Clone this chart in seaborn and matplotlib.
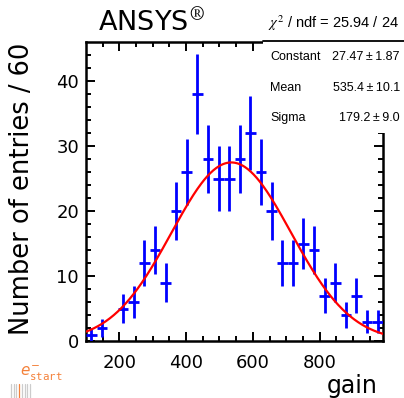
import numpy as np
import pandas as pd
import seaborn as sns
import matplotlib
matplotlib.use('Agg')
import matplotlib.pyplot as plt
from matplotlib.lines import Line2D
from matplotlib.patches import Rectangle

sns.set_style('ticks')
plt.rcParams['font.family'] = ['DejaVu Sans']
plt.rcParams['mathtext.fontset'] = 'dejavusans'
plt.rcParams['text.color'] = 'black'
plt.rcParams['xtick.color'] = 'black'
plt.rcParams['ytick.color'] = 'black'
plt.rcParams['xtick.labelcolor'] = 'black'
plt.rcParams['ytick.labelcolor'] = 'black'

# histogram: 28 bins between 100 and 990 in gain
bin_lo, bin_hi, n_bins = 100, 990, 28
counts = [1, 2, 0, 5, 6, 12, 14, 9, 20, 26, 38, 28, 25, 25,
          28, 32, 26, 20, 12, 12, 15, 14, 7, 9, 4, 7, 3, 3]

# gaussian fit results (from the stats box)
fit_const, fit_const_err = 27.47, 1.87
fit_mean, fit_mean_err = 535.4, 10.1
fit_sigma, fit_sigma_err = 179.2, 9.0
chi2, ndf = 25.94, 24

edges = np.linspace(bin_lo, bin_hi, n_bins + 1)
hist = pd.DataFrame({'gain': (edges[:-1] + edges[1:]) / 2,
                     'n': counts,
                     'half': np.diff(edges) / 2})
hist['err'] = np.sqrt(hist['n'])
hist = hist[hist['n'] > 0]

xfit = np.linspace(bin_lo, bin_hi, 300)
fit = pd.DataFrame({'gain': xfit,
                    'f': fit_const * np.exp(-0.5 * ((xfit - fit_mean) / fit_sigma) ** 2)})

fig = plt.figure(figsize=(4.04, 3.98), dpi=100)
ax = fig.add_axes([86 / 404, 57 / 398, 297 / 404, 299 / 398])

ax.errorbar(hist['gain'], hist['n'], xerr=hist['half'], yerr=hist['err'],
            fmt='none', ecolor='#0000ff', elinewidth=2.0, capsize=0, zorder=3)
sns.lineplot(data=fit, x='gain', y='f', color='#ff0000', linewidth=1.6, ax=ax, zorder=4)

ax.set_xlim(bin_lo, bin_hi)
ax.set_ylim(0, 46)
ax.set_xticks([200, 400, 600, 800])
ax.set_xticks(np.arange(150, 990, 50), minor=True)
ax.set_yticks([0, 10, 20, 30, 40])
ax.set_yticks(np.arange(0, 46, 2), minor=True)
ax.tick_params(which='both', direction='in', top=True, right=True,
               width=1.4, color='black', labelcolor='black', labelsize=13, pad=5)
ax.tick_params(which='major', length=6.5)
ax.tick_params(which='minor', length=3.6)
ax.tick_params(axis='x', pad=9)
for s in ax.spines.values():
    s.set_linewidth(1.8)
    s.set_color('black')
ax.set_xlabel('')
ax.set_ylabel('')

fig.text(0.054, 0.525, 'Number of entries / 60', rotation=90, fontsize=18.5,
         ha='center', va='center')
fig.text(378 / 404, 5 / 398, 'gain', fontsize=17, ha='right', va='baseline')
fig.text(98 / 404, 1 - 31 / 398, r'ANSYS$^{\circledR}$', fontsize=19.5,
         ha='left', va='baseline', math_fontfamily='cm')

# stats box
fig.patches.append(Rectangle((263 / 404, 1 - 133 / 398), 141 / 404, 92 / 398,
                             transform=fig.transFigure, facecolor='white',
                             edgecolor='none', zorder=5))
fig.add_artist(Line2D([263 / 404, 1], [1 - 41 / 398] * 2, color='black',
                      linewidth=1.3, zorder=6))
fig.text(268 / 404, 1 - 23 / 398, r'$\chi^{2}$ / ndf = %.2f / %d' % (chi2, ndf),
         fontsize=10.5, ha='left', va='center', family='Liberation Sans',
         math_fontfamily='stix', zorder=7)
rows = [('Constant', '%.2f\u2009\u00b1\u2009%.2f' % (fit_const, fit_const_err), 57),
        ('Mean', '%.1f\u2009\u00b1\u2009%.1f' % (fit_mean, fit_mean_err), 88),
        ('Sigma', '%.1f\u2009\u00b1\u2009%.1f' % (fit_sigma, fit_sigma_err), 118)]
for name, val, y in rows:
    fig.text(270 / 404, 1 - y / 398, name, fontsize=9, ha='left', va='center',
             family='Liberation Sans', zorder=7)
    fig.text(400 / 404, 1 - y / 398, val, fontsize=9, ha='right', va='center',
             family='Liberation Sans', zorder=7)

# small logo bottom left
orange = '#f4813a'
fig.text(20 / 404, 1 - 376 / 398, r'$e^{-}_{\mathtt{start}}$', fontsize=11,
         color=orange, ha='left', va='baseline')
for i in range(8):
    xx = (11 + 2.7 * i) / 404
    fig.add_artist(Line2D([xx, xx], [0, 14 / 398],
                          color=orange if i == 3 else '#cccccc', linewidth=0.9))

fig.savefig('out.png', dpi=100)
